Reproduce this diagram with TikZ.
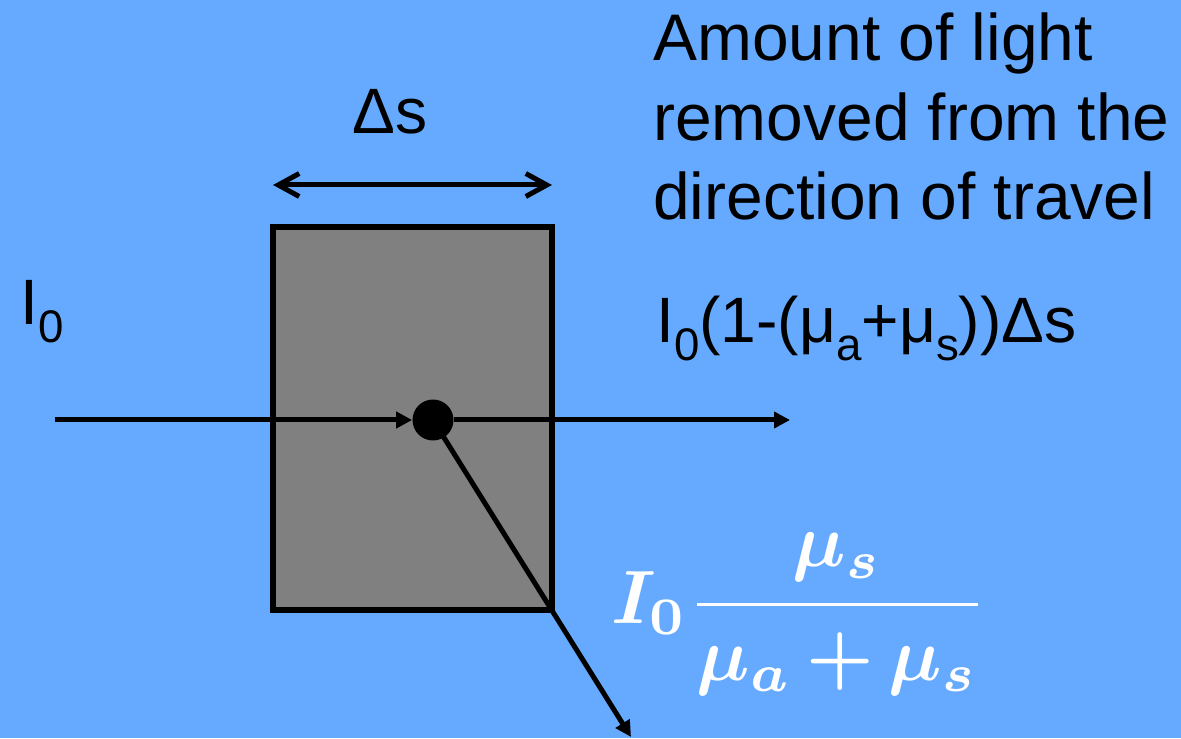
\documentclass[tikz,border=0pt]{standalone}
\usepackage{fontspec}
\setmainfont{Liberation Sans}
\usepackage{amsmath}
\usepackage{bm}
\usepackage{graphicx}
\usetikzlibrary{arrows.meta, positioning, calc}
\definecolor{slidebg}{RGB}{102,170,255}
\definecolor{slabgray}{RGB}{128,128,128}
\newcommand{\lowsub}[1]{\raisebox{-10pt}{\fontsize{26}{26}\selectfont #1}}
\tikzset{
  slab/.style      = {draw, line width=0.11cm, fill=slabgray, minimum width=5.58cm,
                      minimum height=7.66cm, inner sep=0pt, outer sep=0pt},
  scatterpt/.style = {circle, fill=black, minimum size=0.82cm, inner sep=0pt},
  ray/.style       = {-{Triangle[length=0.32cm, width=0.32cm]}, line width=0.1cm},
  span/.style      = {{Straight Barb[length=0.42cm, width=0.46cm]}-{Straight Barb[length=0.42cm, width=0.46cm]},
                      line width=0.1cm, line cap=round},
  bigtext/.style   = {font=\fontsize{36.5}{45.5}\selectfont, inner sep=0pt},
}

\begin{document}
\begin{tikzpicture}[x=0.02cm, y=0.02cm]
    \fill[slidebg] (0,0) rectangle (1181,738);
    \useasboundingbox (0,0) rectangle (1181,738);

    \node[slab] (slab) at (412.5,319.5) {};
    \node[scatterpt] (hit) at (433,318) {};
    \coordinate (src)  at (55,318);
    \coordinate (fwd)  at (790,318);
    \coordinate (side) at (631,1);
    \coordinate (spanlevel) at (0,553);

    \draw[ray] (src) -- (hit);
    \draw[ray] (hit) -- (fwd);
    \draw[ray] (hit.center) -- (side);
    \draw[span] (slab.north west |- spanlevel) -- (slab.north east |- spanlevel);

    \node[bigtext, anchor=base] (ds) at (390,604) {Δs};
    \node[bigtext, anchor=base west] (inlabel) at (20,413) {I\lowsub{0}};
    \node[bigtext, anchor=north west, align=left, font=\fontsize{37.5}{45.5}\selectfont]
      (removed) at (653,726) {Amount of light\\removed from the\\direction of travel};
    \node[bigtext, anchor=base west] (fwdlabel) at (656,395)
      {I\lowsub{0}(1-(μ\lowsub{a}+μ\lowsub{s}))Δs};
    \node[white, inner sep=0pt] (scatlabel) at (799,124)
      {\scalebox{4.3}{$\displaystyle\bm{I_0\frac{\mu_s}{\mu_a\,{+}\,\mu_s}}$}};
\end{tikzpicture}
\end{document}
